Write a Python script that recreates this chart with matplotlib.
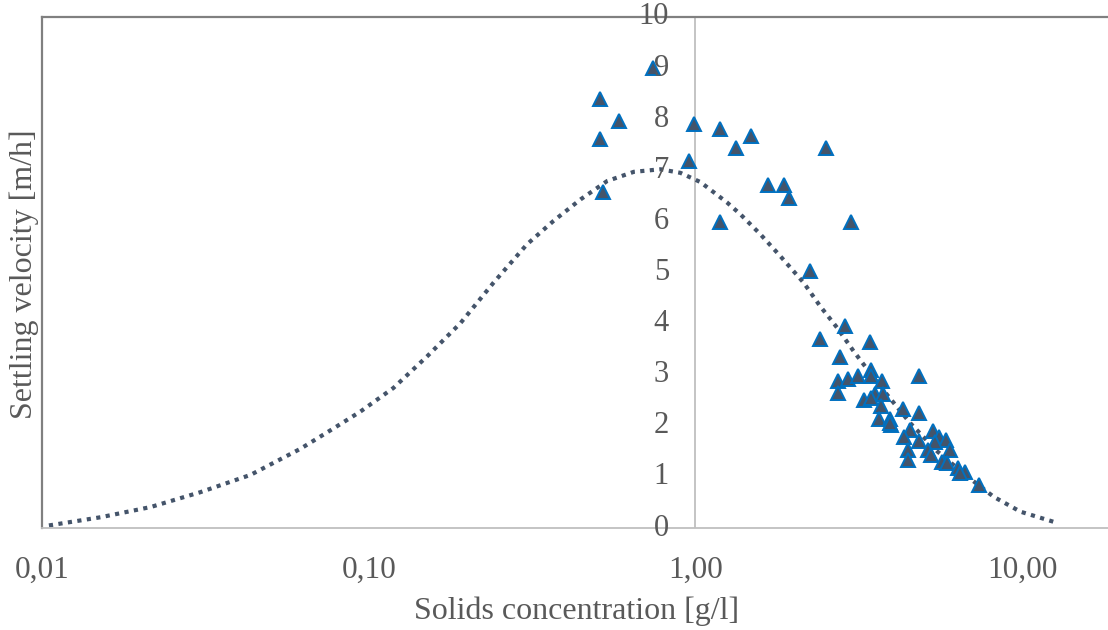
import matplotlib.pyplot as plt
import matplotlib.transforms as mtransforms

# Measured settling velocities vs. solids concentration
conc_obs = [0.512, 0.582, 0.512, 0.742, 0.520, 0.954, 0.993, 1.193, 1.193, 1.332,
            1.480, 2.506, 1.673, 1.873, 1.94, 2.996, 2.238, 2.41, 2.878, 3.417,
            2.78, 4.85, 2.73, 2.925, 3.14, 3.45, 3.45, 3.73, 2.73, 3.276,
            3.556, 3.74, 3.45, 3.70, 4.31, 4.85, 3.64, 3.95, 3.97, 3.95,
            4.53, 4.36, 4.85, 5.33, 5.56, 5.85, 5.43, 4.46, 5.14, 6.03,
            5.27, 4.46, 5.69, 5.90, 6.35, 6.71, 6.44, 7.36]
vel_obs = [8.39, 7.97, 7.61, 9.01, 6.58, 7.18, 7.90, 7.80, 5.99, 7.43,
           7.67, 7.43, 6.71, 6.71, 6.45, 5.99, 5.03, 3.70, 3.95, 3.64,
           3.34, 2.97, 2.87, 2.92, 2.98, 3.10, 2.97, 2.87, 2.64, 2.50,
           2.62, 2.63, 2.54, 2.38, 2.33, 2.26, 2.13, 2.13, 2.02, 2.05,
           1.92, 1.78, 1.71, 1.89, 1.79, 1.73, 1.69, 1.53, 1.53, 1.53,
           1.43, 1.33, 1.30, 1.28, 1.17, 1.10, 1.07, 0.84]

# Model curve
conc_model = [0.0105, 0.0151, 0.0215, 0.0305, 0.0435, 0.0618, 0.0781, 0.0944,
              0.119, 0.151, 0.191, 0.241, 0.305, 0.368, 0.445, 0.537, 0.648,
              0.782, 0.900, 1.036, 1.25, 1.373, 1.58, 1.82, 2.145, 2.41, 2.715,
              3.05, 3.43, 3.86, 4.55, 5.50, 6.79, 8.19, 9.88, 12.65]
vel_model = [0.05, 0.21, 0.41, 0.70, 1.04, 1.55, 1.95, 2.28,
             2.74, 3.36, 4.01, 4.80, 5.55, 6.01, 6.43, 6.79, 6.97,
             7.02, 6.95, 6.77, 6.37, 6.14, 5.75, 5.32, 4.80, 4.34, 3.92,
             3.46, 3.03, 2.61, 2.05, 1.50, 1.01, 0.61, 0.32, 0.11]

x_ticks = [0.01, 0.1, 1, 10]
x_tick_labels = ['0,01', '0,10', '1,00', '10,00']
y_ticks = list(range(0, 11))

text_col = '#595959'
plt.rcParams['font.family'] = ['Liberation Serif', 'DejaVu Serif']

fig = plt.figure(figsize=(11.08, 6.30), dpi=100)
ax = fig.add_axes([42 / 1108, 102 / 630, 1 - 42 / 1108, 511 / 630])

ax.set_xscale('log')
ax.set_xlim(0.01, 10 ** 1.263)
ax.set_ylim(0, 10)

ax.plot(conc_model, vel_model, color='#44546A', lw=3.0,
        linestyle=(0, (1, 1.3)), dash_capstyle='butt', zorder=2)
ax.plot(conc_obs, vel_obs, linestyle='none', marker='^', ms=10,
        mfc='#44546A', mec='#0070C0', mew=1.4, zorder=3)

# vertical axis crosses at 1.00
ax.axvline(1.0, color='#BFBFBF', lw=1.3, zorder=1)

for side in ['left', 'top']:
    ax.spines[side].set_color('#808080')
    ax.spines[side].set_linewidth(1.6)
ax.spines['bottom'].set_color('#BFBFBF')
ax.spines['bottom'].set_linewidth(1.3)
ax.spines['right'].set_visible(False)

ax.set_xticks(x_ticks)
ax.set_xticklabels(x_tick_labels)
ax.xaxis.set_minor_locator(plt.NullLocator())
ax.tick_params(axis='x', length=0, pad=20, labelsize=22.5, labelcolor=text_col)
ax.set_yticks([])

# y labels sit next to the axis line at x = 1
trans = mtransforms.offset_copy(ax.transData, fig=fig, x=-19, y=0, units='points')
for v in y_ticks:
    ax.text(1.0, v, str(v), transform=trans, ha='right', va='center',
            fontsize=22, color=text_col, clip_on=False)

fig.text(577 / 1108, 1 - 611 / 630, 'Solids concentration [g/l]', ha='center',
         va='center', fontsize=23, color=text_col)
fig.text(24 / 1108, 1 - 274 / 630, 'Settling velocity [m/h]', ha='center',
         va='center', rotation=90, fontsize=23, color=text_col)

plt.savefig('out.png', dpi=100)
